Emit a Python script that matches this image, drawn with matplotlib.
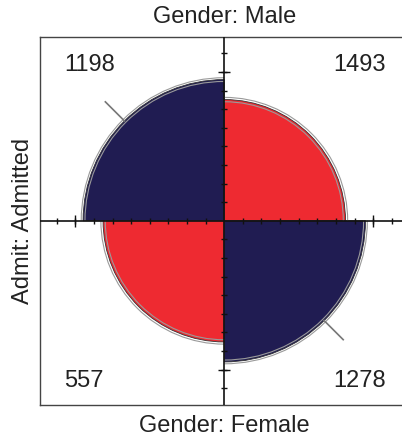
import numpy as np
import matplotlib
matplotlib.use('Agg')
import matplotlib.pyplot as plt
from matplotlib.patches import Wedge, Arc

plt.rcParams['font.family'] = ['Liberation Sans', 'DejaVu Sans']

# Datos: UCB Admissions (Admit x Gender)
generos = ['Male', 'Female']
admitidos = [1198, 557]      # Admit: Admitted
rechazados = [1493, 1278]    # Admit: Rejected
color_oscuro = '#201c52'
color_rojo = '#ee2a31'

tabla = np.array([admitidos, rechazados], dtype=float).T  # filas: genero, columnas: admit

# Estandarizar a margenes iguales (ajuste proporcional iterativo)
est = tabla.copy()
for _ in range(50):
    est = est / est.sum(axis=1, keepdims=True)
    est = est / est.sum(axis=0, keepdims=True)

# Intervalo de confianza del odds ratio para los anillos
a, b, c, d = tabla[0, 0], tabla[0, 1], tabla[1, 0], tabla[1, 1]
log_or = np.log(a * d / (b * c))
se = np.sqrt(1 / a + 1 / b + 1 / c + 1 / d)
def celda_std(or_val):
    s = np.sqrt(or_val)
    return s / (1 + s)
ci = [celda_std(np.exp(log_or - 1.96 * se)), celda_std(np.exp(log_or + 1.96 * se))]

fig = plt.figure(figsize=(4.025, 4.375), dpi=100)
ax = fig.add_axes([40 / 402, 32 / 437, 368 / 402, 368 / 437])
ax.set_xlim(-0.99, 0.99)
ax.set_ylim(-0.99, 0.99)
ax.set_xticks([])
ax.set_yticks([])
for s in ax.spines.values():
    s.set_color('#444444')
    s.set_linewidth(1.0)

# cuadrantes: (fila genero, col admit, theta1, theta2, color)
cuadrantes = [(0, 0, 90, 180, color_oscuro), (0, 1, 0, 90, color_rojo),
              (1, 0, 180, 270, color_rojo), (1, 1, 270, 360, color_oscuro)]
for i, j, t1, t2, col in cuadrantes:
    r = np.sqrt(est[i, j] / est[i].sum())
    ax.add_patch(Wedge((0, 0), r, t1, t2, facecolor=col,
                       edgecolor='#333333', lw=0.6, zorder=2))
    diag = (i == j)
    for p in ci:
        rr = np.sqrt(p if diag else 1 - p)
        ax.add_patch(Arc((0, 0), 2 * rr, 2 * rr, theta1=t1, theta2=t2,
                         color='#9a9a9a', lw=0.8, zorder=3))
    if diag:
        ang = np.deg2rad((t1 + t2) / 2)
        ax.plot([r * np.cos(ang), (r + 0.145) * np.cos(ang)],
                [r * np.sin(ang), (r + 0.145) * np.sin(ang)],
                color='#777777', lw=1.2, zorder=3)

# ejes centrales con marcas
ax.axhline(0, color='#111111', lw=1.2, zorder=4)
ax.axvline(0, color='#111111', lw=1.2, zorder=4)
marcas = np.concatenate([-np.arange(1, 10) * 0.1, np.arange(1, 10) * 0.1])
mayores = np.array([-0.8, 0.8])
ax.plot(marcas, np.zeros_like(marcas), ls='', marker='|', ms=5, mew=1, color='#111111', zorder=5)
ax.plot(np.zeros_like(marcas), marcas, ls='', marker='_', ms=5, mew=1, color='#111111', zorder=5)
ax.plot(mayores, np.zeros_like(mayores), ls='', marker='|', ms=9, mew=1, color='#111111', zorder=5)
ax.plot(np.zeros_like(mayores), mayores, ls='', marker='_', ms=9, mew=1, color='#111111', zorder=5)

# frecuencias
fs = 17
ax.text(-0.86, 0.84, str(admitidos[0]), ha='left', va='center', fontsize=fs, color='#222222')
ax.text(0.87, 0.84, str(rechazados[0]), ha='right', va='center', fontsize=fs, color='#222222')
ax.text(-0.86, -0.86, str(admitidos[1]), ha='left', va='center', fontsize=fs, color='#222222')
ax.text(0.87, -0.86, str(rechazados[1]), ha='right', va='center', fontsize=fs, color='#222222')

# etiquetas de los margenes
ax.text(0, 1.1, 'Gender: ' + generos[0], ha='center', va='center', fontsize=fs, color='#222222')
ax.text(0, -1.1, 'Gender: ' + generos[1], ha='center', va='center', fontsize=fs, color='#222222')
ax.text(-1.08, 0, 'Admit: Admitted', ha='center', va='center', rotation=90, fontsize=fs, color='#222222')

fig.savefig('out.png', dpi=100)
